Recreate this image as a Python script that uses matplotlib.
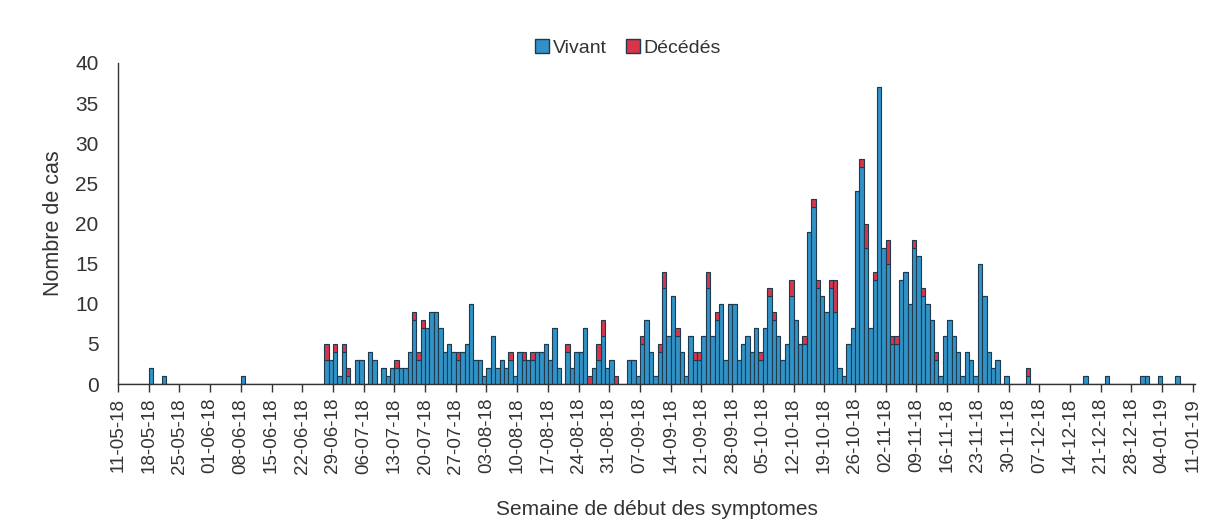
import datetime
import numpy as np
from matplotlib import pyplot as plt
from matplotlib.patches import Patch

plt.rcParams['font.family'] = ['Liberation Sans Narrow', 'Liberation Sans', 'DejaVu Sans']

# daily counts from 11-05-18 (day 0) to 11-01-19 (day 245), one row per week
start = datetime.date(2018, 5, 11)

vivant = [
    0, 0, 0, 0, 0, 0, 0,
    2, 0, 0, 1, 0, 0, 0,
    0, 0, 0, 0, 0, 0, 0,
    0, 0, 0, 0, 0, 0, 0,
    1, 0, 0, 0, 0, 0, 0,
    0, 0, 0, 0, 0, 0, 0,
    0, 0, 0, 0, 0, 3, 3,
    4, 1, 4, 1, 0, 3, 3,
    0, 4, 3, 0, 2, 1, 2,
    2, 2, 2, 4, 8, 3, 7,
    7, 9, 9, 7, 4, 5, 4,
    3, 4, 5, 10, 3, 3, 1,
    2, 6, 2, 3, 2, 3, 1,
    4, 3, 3, 3, 4, 4, 5,
    3, 7, 2, 0, 4, 2, 4,
    4, 7, 0, 2, 3, 6, 2,
    3, 0, 0, 0, 3, 3, 1,
    5, 8, 4, 1, 4, 12, 6,
    11, 6, 4, 1, 6, 3, 3,
    6, 12, 6, 8, 10, 3, 10,
    10, 3, 5, 6, 4, 7, 3,
    7, 11, 8, 6, 3, 5, 11,
    8, 5, 5, 19, 22, 12, 11,
    9, 12, 9, 2, 1, 5, 7,
    24, 27, 17, 7, 13, 37, 17,
    15, 5, 5, 13, 14, 10, 17,
    16, 11, 10, 8, 3, 1, 6,
    8, 6, 4, 1, 4, 3, 1,
    15, 11, 4, 2, 3, 0, 1,
    0, 0, 0, 0, 1, 0, 0,
    0, 0, 0, 0, 0, 0, 0,
    0, 0, 0, 1, 0, 0, 0,
    0, 1, 0, 0, 0, 0, 0,
    0, 0, 1, 1, 0, 0, 1,
    0, 0, 0, 1, 0, 0, 0,
    0,
]

decedes = [
    0, 0, 0, 0, 0, 0, 0,
    0, 0, 0, 0, 0, 0, 0,
    0, 0, 0, 0, 0, 0, 0,
    0, 0, 0, 0, 0, 0, 0,
    0, 0, 0, 0, 0, 0, 0,
    0, 0, 0, 0, 0, 0, 0,
    0, 0, 0, 0, 0, 2, 0,
    1, 0, 1, 1, 0, 0, 0,
    0, 0, 0, 0, 0, 0, 0,
    1, 0, 0, 0, 1, 1, 1,
    0, 0, 0, 0, 0, 0, 0,
    1, 0, 0, 0, 0, 0, 0,
    0, 0, 0, 0, 0, 1, 0,
    0, 1, 0, 1, 0, 0, 0,
    0, 0, 0, 0, 1, 0, 0,
    0, 0, 1, 0, 2, 2, 0,
    0, 1, 0, 0, 0, 0, 0,
    1, 0, 0, 0, 1, 2, 0,
    0, 1, 0, 0, 0, 1, 1,
    0, 2, 0, 1, 0, 0, 0,
    0, 0, 0, 0, 0, 0, 1,
    0, 1, 1, 0, 0, 0, 2,
    0, 0, 1, 0, 1, 1, 0,
    0, 1, 4, 0, 0, 0, 0,
    0, 1, 3, 0, 1, 0, 0,
    3, 1, 1, 0, 0, 0, 1,
    0, 1, 0, 0, 1, 0, 0,
    0, 0, 0, 0, 0, 0, 0,
    0, 0, 0, 0, 0, 0, 0,
    0, 0, 0, 0, 1, 0, 0,
    0, 0, 0, 0, 0, 0, 0,
    0, 0, 0, 0, 0, 0, 0,
    0, 0, 0, 0, 0, 0, 0,
    0, 0, 0, 0, 0, 0, 0,
    0, 0, 0, 0, 0, 0, 0,
    0,
]

tick_days = list(range(0, 246, 7))
tick_labels = [(start + datetime.timedelta(days=d)).strftime("%d-%m-%y") for d in tick_days]

blue = "#3092c6"
red = "#d8354b"
edge = "#1f3a4c"
txt = "#333333"

fig = plt.figure(figsize=(12.2, 5.27), dpi=100)
ax = fig.add_axes([0.0967, 0.2713, 0.8828, 0.6092])

days = np.arange(len(vivant))
ax.bar(days, vivant, width=1, align="edge", color=blue, edgecolor=edge, linewidth=0.8)
ax.bar(days, decedes, bottom=vivant, width=1, align="edge", color=red, edgecolor=edge, linewidth=0.8)

ax.set_xlim(0, 245.5)
ax.set_ylim(0, 40)
ax.set_yticks(range(0, 41, 5))
ax.set_xticks(tick_days)
ax.set_xticklabels(tick_labels, rotation=90)

ax.spines["top"].set_visible(False)
ax.spines["right"].set_visible(False)
for s in ("left", "bottom"):
    ax.spines[s].set_color(txt)
    ax.spines[s].set_linewidth(1.0)

ax.tick_params(axis="y", length=0, pad=14, labelsize=15, labelcolor=txt)
ax.tick_params(axis="x", length=6, width=1, color=txt, pad=4, labelsize=13.5, labelcolor=txt)

ax.set_ylabel("Nombre de cas", fontsize=15.5, color=txt, labelpad=8)
ax.set_xlabel("Semaine de début des symptomes", fontsize=15, color=txt, labelpad=19)

handles = [Patch(facecolor=blue, edgecolor=edge, label="Vivant"),
           Patch(facecolor=red, edgecolor=edge, label="Décédés")]
fig.legend(handles=handles, loc="center", bbox_to_anchor=(0.515, 0.909), ncol=2,
           frameon=False, fontsize=14, handlelength=0.7, handleheight=0.7,
           handletextpad=0.2, columnspacing=1.0, labelcolor=txt)

fig.savefig("out.png", dpi=100)
